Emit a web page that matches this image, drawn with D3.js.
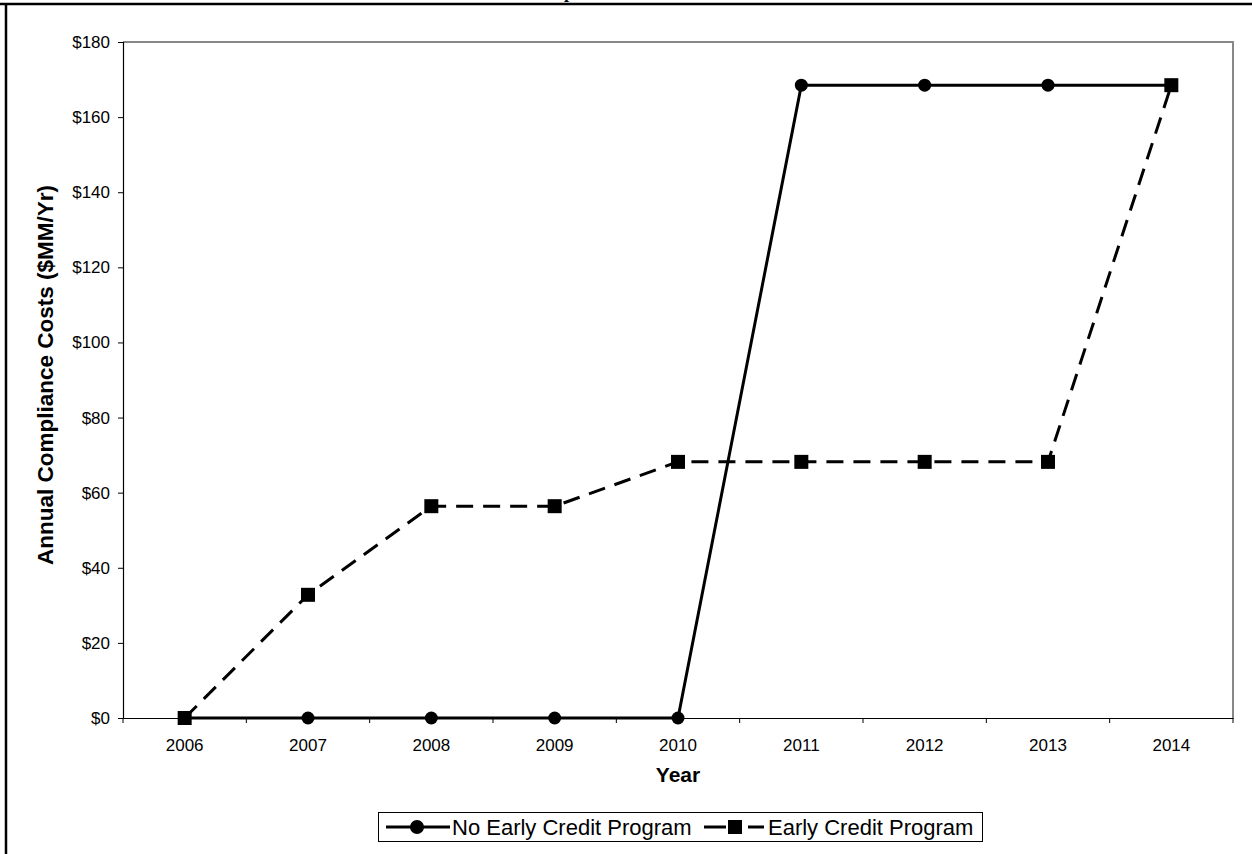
<!DOCTYPE html>
<html>
<head>
<meta charset="utf-8">
<script src="https://cdn.jsdelivr.net/npm/d3@7"></script>
<style>
  html, body { margin: 0; padding: 0; background: #fff; }
  svg { display: block; }
  text { font-family: Arial, "Liberation Sans", sans-serif; fill: #000; }
</style>
</head>
<body>
<svg id="chart" width="1252" height="854"></svg>
<script>
const years = ["2006", "2007", "2008", "2009", "2010", "2011", "2012", "2013", "2014"];
const noEarlyCredit = [0, 0, 0, 0, 0, 168.5, 168.5, 168.5, 168.5];
const earlyCredit = [0, 32.8, 56.4, 56.4, 68.2, 68.2, 68.2, 68.2, 168.5];
const yTicks = [0, 20, 40, 60, 80, 100, 120, 140, 160, 180];
const seriesNames = ["No Early Credit Program", "Early Credit Program"];

const svg = d3.select("#chart");
const plot = { left: 123, right: 1233, top: 42, bottom: 718 };

const x = d3.scaleBand().domain(years).range([plot.left, plot.right]);
const y = d3.scaleLinear().domain([0, 180]).range([plot.bottom, plot.top]);
const cx = d => x(d) + x.bandwidth() / 2;

// Chart title (sits above the frame; only the descender of its "p" shows)
const title = svg.append("text")
  .attr("y", -2)
  .style("font-family", "'Liberation Serif', 'Times New Roman', serif")
  .style("font-weight", "bold").style("font-size", "18px")
  .text("Annual Compliance Costs");
const pIndex = title.text().indexOf("p");
const pOffset = title.node().getSubStringLength(0, pIndex);
title.attr("x", 564 - pOffset);

// Outer frame (top and left edges)
svg.append("line").attr("x1", 0).attr("x2", 1252).attr("y1", 4).attr("y2", 4)
  .attr("stroke", "#000").attr("stroke-width", 2.5);
svg.append("line").attr("x1", 6).attr("x2", 6).attr("y1", 4).attr("y2", 854)
  .attr("stroke", "#000").attr("stroke-width", 2.5);

// Plot area border (top and right in grey)
svg.append("path")
  .attr("d", `M${plot.left},${plot.top}H${plot.right}V${plot.bottom}`)
  .attr("fill", "none").attr("stroke", "#888").attr("stroke-width", 2);

// Y axis
const yAxis = d3.axisLeft(y).tickValues(yTicks).tickSize(5).tickPadding(8)
  .tickFormat(d => "$" + d);
const gy = svg.append("g").attr("transform", `translate(${plot.left},0)`).call(yAxis);
gy.attr("font-size", null).attr("font-family", null);
gy.select(".domain").attr("stroke", "#000").attr("stroke-width", 1.2);
gy.selectAll(".tick line").attr("stroke", "#000");
gy.selectAll(".tick text").style("font-size", "17px");

// X axis with ticks on category boundaries
const xAxis = d3.axisBottom(x).tickSize(0).tickPadding(21);
const gx = svg.append("g").attr("transform", `translate(0,${plot.bottom})`).call(xAxis);
gx.attr("font-size", null).attr("font-family", null);
gx.select(".domain").attr("stroke", "#000").attr("stroke-width", 1.2);
gx.selectAll(".tick text").style("font-size", "17px");
const boundaries = years.map(d => x(d)).concat([x(years[years.length - 1]) + x.bandwidth()]);
svg.append("g").selectAll("line").data(boundaries).join("line")
  .attr("x1", d => d).attr("x2", d => d)
  .attr("y1", plot.bottom).attr("y2", plot.bottom + 5)
  .attr("stroke", "#000");

// Axis titles
svg.append("text")
  .attr("transform", "translate(53,375) rotate(-90)")
  .attr("text-anchor", "middle")
  .style("font-weight", "bold").style("font-size", "22.5px")
  .text("Annual Compliance Costs ($MM/Yr)");
svg.append("text")
  .attr("x", (plot.left + plot.right) / 2).attr("y", 782)
  .attr("text-anchor", "middle")
  .style("font-weight", "bold").style("font-size", "21px")
  .text("Year");

// Series lines
const line = d3.line().x((d, i) => cx(years[i])).y(d => y(d));

svg.append("path").datum(earlyCredit)
  .attr("d", line).attr("fill", "none")
  .attr("stroke", "#000").attr("stroke-width", 3)
  .attr("stroke-dasharray", "17,10");
svg.append("path").datum(noEarlyCredit)
  .attr("d", line).attr("fill", "none")
  .attr("stroke", "#000").attr("stroke-width", 3);

// Markers
svg.append("g").selectAll("rect").data(earlyCredit).join("rect")
  .attr("x", (d, i) => cx(years[i]) - 7).attr("y", d => y(d) - 7)
  .attr("width", 14).attr("height", 14).attr("fill", "#000");
svg.append("g").selectAll("circle").data(noEarlyCredit).join("circle")
  .attr("cx", (d, i) => cx(years[i])).attr("cy", d => y(d))
  .attr("r", 6.5).attr("fill", "#000");

// Legend
const legend = svg.append("g");
legend.append("rect")
  .attr("x", 378.5).attr("y", 812.5).attr("width", 604).attr("height", 29)
  .attr("fill", "#fff").attr("stroke", "#000").attr("stroke-width", 1);
const leg1 = legend.append("g").attr("transform", "translate(386,827)");
leg1.append("line").attr("x1", 0).attr("x2", 64).attr("y1", 0).attr("y2", 0)
  .attr("stroke", "#000").attr("stroke-width", 3);
leg1.append("circle").attr("cx", 31).attr("cy", 0).attr("r", 7).attr("fill", "#000");
leg1.append("text").attr("x", 66).attr("y", 8).style("font-size", "22px").text(seriesNames[0]);

const leg2 = legend.append("g").attr("transform", "translate(704,827)");
leg2.append("line").attr("x1", 0).attr("x2", 22).attr("y1", 0).attr("y2", 0)
  .attr("stroke", "#000").attr("stroke-width", 3);
leg2.append("line").attr("x1", 44).attr("x2", 60).attr("y1", 0).attr("y2", 0)
  .attr("stroke", "#000").attr("stroke-width", 3);
leg2.append("rect").attr("x", 24).attr("y", -7).attr("width", 14).attr("height", 14).attr("fill", "#000");
leg2.append("text").attr("x", 64).attr("y", 8).style("font-size", "22px").text(seriesNames[1]);
</script>
</body>
</html>
